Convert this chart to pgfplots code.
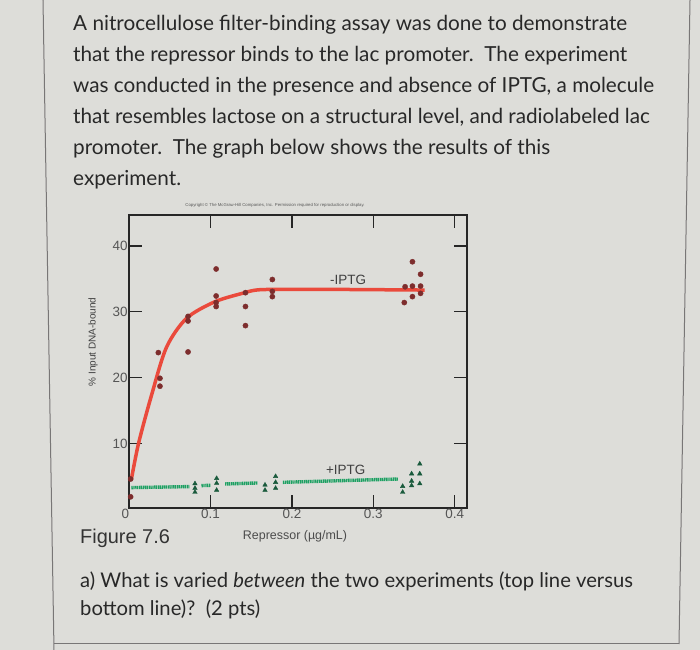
\documentclass[border=0pt]{standalone}
\usepackage{fontspec}
\setmainfont{Lato}
\newfontfamily\hv{Liberation Sans}
\usepackage{pgfplots}
\pgfplotsset{compat=1.18}
\definecolor{bg}{RGB}{221,221,217}
\definecolor{txt}{RGB}{40,40,40}
\definecolor{redline}{RGB}{234,74,60}
\definecolor{redpt}{RGB}{125,45,45}
\definecolor{grline}{RGB}{28,160,98}
\definecolor{grpt}{RGB}{25,90,60}
\definecolor{ticklab}{RGB}{85,85,85}
\definecolor{border}{RGB}{120,118,118}
\begin{document}
\begin{tikzpicture}[x=1bp,y=1bp]
\begin{scope}[shift={(-129,-142)}]
\useasboundingbox (0,0) rectangle (700,650);
\fill[bg] (0,0) rectangle (700,650);
\draw[border, line width=1bp] (43,650) -- (54,0);
\draw[border, line width=1bp] (690,650) -- (679,6);
\draw[border, line width=0.8bp] (54,7) -- (679,7);
\begin{scope}[every node/.style={anchor=base west, inner sep=0pt, text=txt, font=\fontsize{20.8}{24}\selectfont}]
\node at (73,619) {A nitrocellulose filter-binding assay was done to demonstrate};
\node at (73,588) {that the repressor binds to the lac promoter.\ \ The experiment};
\node at (73,557) {was conducted in the presence and absence of IPTG, a molecule};
\node at (73,526) {that resembles lactose on a structural level, and radiolabeled lac};
\node at (73,495) {promoter.\ \ The graph below shows the results of this};
\node at (73,464) {experiment.};
\end{scope}
\begin{scope}[every node/.style={anchor=base west, inner sep=0pt, text=txt, font=\fontsize{20.3}{24}\selectfont}]
\node at (80,63) {a) What is varied \textit{between} the two experiments (top line versus};
\node at (80,35) {bottom line)?\ \ (2 pts)};
\end{scope}
\node[anchor=base west, inner sep=0pt, text=black!80, font=\hv\fontsize{20}{20}\selectfont] at (80,106) {Figure 7.6};
\node[anchor=base, inner sep=0pt, text=black!70, font=\hv\fontsize{12.5}{12.5}\selectfont] at (295,110) {Repressor (µg/mL)};
\node[rotate=90, inner sep=0pt, text=black!75, font=\hv\fontsize{10}{10}\selectfont] at (93,308) {\% Input DNA-bound};
\node[inner sep=0pt, text=black!65, font=\hv\fontsize{4.3}{4.3}\selectfont] at (275,445) {Copyright \textcopyright\ The McGraw-Hill Companies, Inc. Permission required for reproduction or display.};
\end{scope}
\begin{axis}[
  width=338bp, height=293bp, scale only axis,
  xmin=0, xmax=0.415, ymin=0.2, ymax=44.7,
  axis line style={line width=1.4bp, black!85},
  tick align=inside, major tick length=13bp,
  tick style={line width=1.4bp, black!85},
  xtick={0,0.1,0.2,0.3,0.4},
  xticklabels={\makebox[0pt][r]{0},0.1,0.2,0.3,0.4},
  ytick={10,20,30,40},
  yticklabels={10,20,30,40},
  ticklabel style={font=\hv\fontsize{13.5}{13.5}\selectfont, text=ticklab, inner sep=1.2bp},
  clip=false,
]
\addplot[redline, line width=3.5bp, smooth, no markers] coordinates {
(0.0027,4.4) (0.0117,10.0) (0.0276,17.3) (0.046,24.6) (0.0706,29.0) (0.105,31.5) (0.139,32.8) (0.156,33.3) (0.18,33.4) (0.25,33.4) (0.363,33.3)};
\addplot[only marks, mark=*, mark size=2.6bp, redpt] coordinates {
(0.002,4.6) (0.002,1.9) (0.036,23.8) (0.038,19.9) (0.038,18.7)
(0.0725,29.3) (0.0725,28.6) (0.0725,23.9)
(0.107,36.5) (0.107,32.4) (0.107,31.4) (0.107,30.8)
(0.143,32.9) (0.143,30.8) (0.143,27.9)
(0.176,34.9) (0.176,33.1) (0.176,32.3)
(0.338,31.4) (0.339,33.8) (0.348,37.6) (0.348,33.9) (0.348,32.3)
(0.358,35.7) (0.358,33.9) (0.358,32.8)};
\addplot[grline, line width=3.4bp, dash pattern=on 1.3bp off 0.6bp, unbounded coords=jump, no markers] coordinates {
(0.003,3.3) (0.074,3.45) (0.08,nan) (0.089,3.6) (0.100,3.65) (0.11,nan)
(0.118,3.85) (0.158,4.0) (0.17,nan) (0.189,4.1) (0.330,4.6)};
\addplot[only marks, mark=triangle*, mark size=2.6bp, grpt] coordinates {
(0.081,3.9) (0.081,3.2) (0.081,2.6)
(0.1076,4.7) (0.1076,3.96) (0.1076,2.9)
(0.167,3.7) (0.167,2.9)
(0.180,5.0) (0.180,4.1) (0.180,3.2)
(0.336,3.5) (0.336,2.6)
(0.347,5.4) (0.347,4.3) (0.347,3.6)
(0.357,6.9) (0.357,5.4) (0.357,3.9)};
\node[font=\hv\fontsize{13.5}{13.5}\selectfont, text=black!75] at (axis cs:0.269,34.9) {-IPTG};
\node[font=\hv\fontsize{13.5}{13.5}\selectfont, text=black!75] at (axis cs:0.266,6.0) {+IPTG};
\end{axis}
\end{tikzpicture}
\end{document}
